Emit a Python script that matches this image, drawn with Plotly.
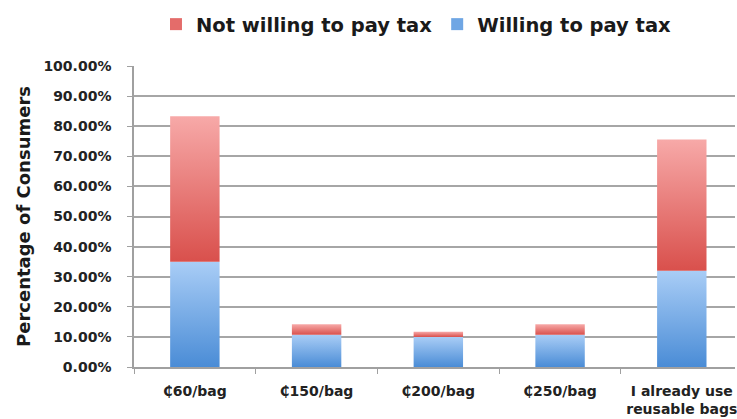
import plotly.graph_objects as go

# Survey results: share of consumers per plastic-bag tax level
categories = ["₵60/bag", "₵150/bag", "₵200/bag", "₵250/bag", "I already use<br>reusable bags"]
willing = [35.0, 10.7, 10.0, 10.7, 32.0]
not_willing = [48.3, 3.5, 1.7, 3.5, 43.6]
y_ticks = [0, 10, 20, 30, 40, 50, 60, 70, 80, 90, 100]
y_tick_labels = [f"{v:.2f}%" for v in y_ticks]

series = [
    ("Not willing to pay tax", not_willing, "#D9504C", "#F7A9A8", "#E46C6A"),
    ("Willing to pay tax", willing, "#4A8CD6", "#A9CDF6", "#6FA6E4"),
]

FONT = "DejaVu Sans"
HALF = 0.203  # half bar width in category units

fig = go.Figure()

# stacked segments, each filled with a vertical gradient (dark base, light top)
base = [0.0] * len(categories)
for name, values, dark, light, _ in reversed(series):
    for i, v in enumerate(values):
        b, t = base[i], base[i] + v
        fig.add_trace(go.Scatter(
            x=[i - HALF, i + HALF, i + HALF, i - HALF, i - HALF],
            y=[b, b, t, t, b],
            mode="none",
            fill="toself",
            fillgradient=dict(type="vertical", colorscale=[[0, dark], [1, light]]),
            showlegend=False,
            hoverinfo="skip",
        ))
        base[i] = t

# legend swatches
for name, _, _, _, swatch in series:
    fig.add_trace(go.Scatter(
        x=[None], y=[None], mode="markers", name=name,
        marker=dict(symbol="square", size=12, color=swatch),
    ))

fig.update_layout(
    width=737, height=419,
    margin=dict(l=134, r=0, t=66, b=52),
    paper_bgcolor="white", plot_bgcolor="white",
    font=dict(family=FONT, color="#222222"),
    showlegend=True,
    legend=dict(
        orientation="h", x=0.47, xanchor="center", y=1.138, yanchor="middle",
        font=dict(family=FONT, size=19.5, weight="bold", color="#1a1a1a"),
        itemwidth=30, traceorder="normal",
    ),
    xaxis=dict(
        range=[-0.5, 4.437],
        tickmode="array", tickvals=list(range(len(categories))), ticktext=categories,
        ticks="", ticklabelstandoff=10, ticklabeloverflow="allow",
        tickfont=dict(family=FONT, size=14, weight="bold", color="#222222"),
        showgrid=False, zeroline=False,
        showline=True, linecolor="#a0a0a0", linewidth=1.5,
        minor=dict(tick0=0.5, dtick=1, ticks="outside", ticklen=5,
                   tickcolor="#a0a0a0", showgrid=False),
    ),
    yaxis=dict(
        range=[0, 100],
        tickmode="array", tickvals=y_ticks, ticktext=y_tick_labels,
        ticks="outside", ticklen=5, tickcolor="#a0a0a0", ticklabelstandoff=13,
        tickfont=dict(family=FONT, size=14, weight="bold", color="#222222"),
        showgrid=True, gridcolor="#a6a6a6", gridwidth=1.5,
        zeroline=False,
        showline=True, linecolor="#a0a0a0", linewidth=1.5,
        title=dict(text="Percentage of Consumers", standoff=8,
                   font=dict(family=FONT, size=18, weight="bold", color="#1a1a1a")),
    ),
)

fig.write_html("out.html")
